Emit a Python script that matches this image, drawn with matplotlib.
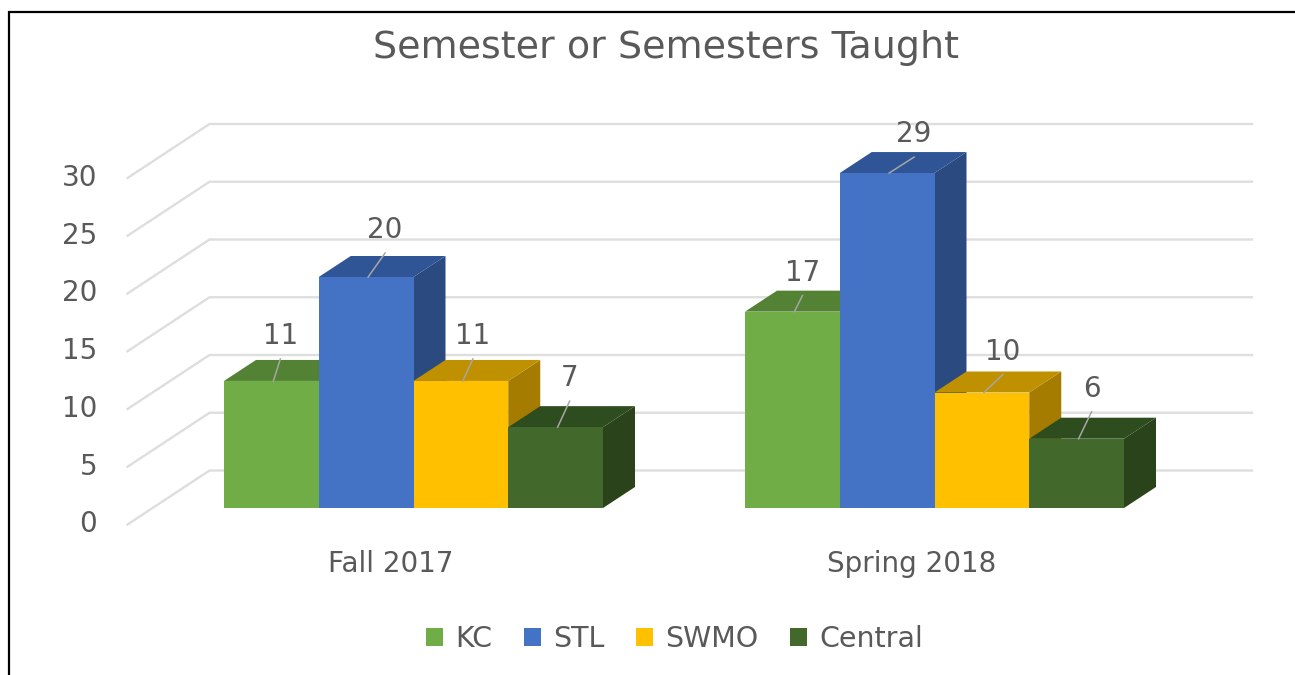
import matplotlib
matplotlib.use("Agg")
import matplotlib.pyplot as plt
from matplotlib.lines import Line2D
from matplotlib.patches import Patch

# --- data ---
categories = ["Fall 2017", "Spring 2018"]
series_names = ["KC", "STL", "SWMO", "Central"]
kc = [11, 17]
stl = [20, 29]
swmo = [11, 10]
central = [7, 6]
y_ticks = [0, 5, 10, 15, 20, 25, 30]
title = "Semester or Semesters Taught"

# --- style ---
front = ["#70AD47", "#4472C4", "#FFC000", "#43682B"]
top = ["#548235", "#2F5597", "#BF9000", "#2E4D1E"]
side = ["#4F7A32", "#2A4A80", "#A67C00", "#2A431A"]
GRID = "#DEDEDE"
TXT = "#595959"
FONT = "DejaVu Sans"

W, H = 1295, 675
PX_X = 521.0      # pixels per category
PX_Y = 11.55      # pixels per value unit
X0, Y0 = 413.5, 508.0  # pixel of category 0 centre / baseline
BAR = 94.75 / PX_X

fig = plt.figure(figsize=(W / 100, H / 100), dpi=100, facecolor="white")
ax = fig.add_axes([0, 0, 1, 1])
ax.set_xlim((0 - X0) / PX_X, (W - X0) / PX_X)
ax.set_ylim((Y0 - H) / PX_Y, Y0 / PX_Y)
ax.axis("off")

def dx(p):
    return p / PX_X
def dy(p):
    return p / PX_Y

# gridlines: floor/back wall with perspective
back_off = 37.5
front_off = -16.5
x_back = (209.5 - X0) / PX_X
x_front = (127.5 - X0) / PX_X
x_end = (1252 - X0) / PX_X
for v in y_ticks:
    ax.plot([x_front, x_back, x_end],
            [v + dy(front_off), v + dy(back_off), v + dy(back_off)],
            color=GRID, lw=1.7, solid_joinstyle="miter", zorder=1)
    ax.text((97 - X0) / PX_X, v + dy(front_off + 0.2), str(v), ha="right", va="center",
            fontsize=20, color=TXT, family=FONT)

# bars
DEPTH_X, DEPTH_Y = dx(32), dy(21)
all_series = [kc, stl, swmo, central]
z = 2
label_offsets = [[(9, 45), (10, 39)], [(19, 47), (27, 39)],
                 [(12, 45), (21, 41)], [(14, 49), (15, 50)]]
for c in range(len(categories)):
    for s, vals in enumerate(all_series):
        v = vals[c]
        x_l = c + (s - 2) * BAR
        x_r = x_l + BAR
        ax.fill([x_r, x_r + DEPTH_X, x_r + DEPTH_X, x_r],
                [0, DEPTH_Y, v + DEPTH_Y, v], color=side[s], lw=0, zorder=z)
        ax.fill([x_l, x_r, x_r + DEPTH_X, x_l + DEPTH_X],
                [v, v, v + DEPTH_Y, v + DEPTH_Y], color=top[s], lw=0, zorder=z)
        ax.bar(x_l, v, width=BAR, align="edge", color=front[s], lw=0, zorder=z + 0.5)
        xc = x_l + BAR / 2
        ox, oy = label_offsets[s][c]
        ax.plot([xc + dx(2), xc + dx(ox)], [v, v + dy(oy - 23)], color="#A6A6A6",
                lw=1.1, zorder=z + 0.6)
        ax.text(xc + dx(ox), v + dy(oy), str(v), ha="center", va="center",
                fontsize=20, color=TXT, family=FONT, zorder=z + 0.7)
        z += 1

# category labels
for c, name in enumerate(categories):
    ax.text(c + dx(-23), dy(508 - 564), name, ha="center", va="center",
            fontsize=20, color=TXT, family=FONT)

# title
ax.text(dx(666 - X0), dy(508 - 48), title, ha="center", va="center",
        fontsize=27.4, color=TXT, family=FONT)

# legend
handles = [Patch(facecolor=front[i], edgecolor="none", label=series_names[i]) for i in range(4)]
ax.legend(handles=handles, loc="center", bbox_to_anchor=(674.5 / W, 1 - 639 / H),
          bbox_transform=fig.transFigure, ncol=4, frameon=False,
          prop={"family": FONT, "size": 20.5}, labelcolor=TXT,
          handlelength=0.6, handleheight=0.6, handletextpad=0.42, columnspacing=1.11,
          borderpad=0, borderaxespad=0)

# outer frame (left and top only)
fx, fy = 8.5 / W, 1 - 11.5 / H
fig.add_artist(Line2D([fx, fx, 1], [0, fy, fy], color="black", lw=1.6,
                      transform=fig.transFigure, solid_joinstyle="miter"))

fig.savefig("out.png", dpi=100, facecolor="white")
